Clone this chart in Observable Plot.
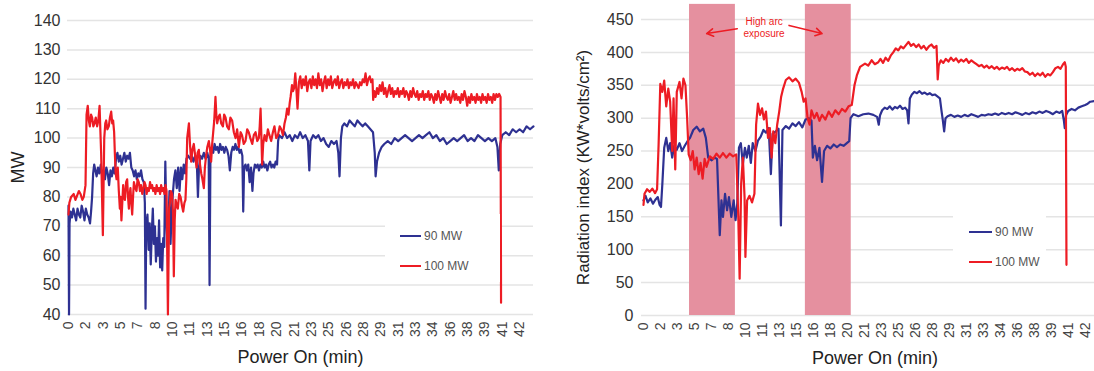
<!DOCTYPE html>
<html>
<head>
<meta charset="utf-8">
<script src="https://cdn.jsdelivr.net/npm/d3@7"></script>
<script src="https://cdn.jsdelivr.net/npm/@observablehq/plot@0.6"></script>
<style>
  html, body { margin: 0; padding: 0; background: #fff; }
  #wrap { position: relative; width: 1094px; height: 371px; overflow: hidden; font-family: 'Liberation Sans', Arial, Helvetica, sans-serif; }
  .panel { position: absolute; top: 0; }
  .legend { position: absolute; background: #fff; font-size: 12px; color: #555; }
  .legend .item { position: absolute; white-space: nowrap; line-height: 14px; }
  .legend .sw { display: inline-block; vertical-align: middle; height: 2px; margin-right: 3px; position: relative; top: -1px; }
</style>
</head>
<body>
<div id="wrap"></div>
<script>
// ---------- data ----------
const xTickLabels = ["0","2","3","5","7","8","10","11","13","15","16","18","20","21","23","25","26","28","29","31","33","34","36","38","39","41","42"];
const mwTicks = [40,50,60,70,80,90,100,110,120,130,140];
const radTicks = [0,50,100,150,200,250,300,350,400,450];
const seriesNames = ["90 MW", "100 MW"];

// Left panel: MW, x in tick-index units
const mw90 = [[0,77],[0.03,40],[0.06,71],[0.12,75],[0.2,73],[0.28,76],[0.36,74],[0.44,72],[0.52,76],[0.6,74],[0.68,73],[0.76,77],[0.84,75],[0.92,72],[1.0,76],[1.08,74],[1.16,73],[1.24,71],[1.3,75],[1.36,80],[1.42,88],[1.48,91],[1.55,89],[1.62,87],[1.7,90],[1.78,88],[1.86,91],[1.94,87],[2.02,89],[2.1,86],[2.18,90],[2.26,88],[2.34,84],[2.42,89],[2.5,87],[2.58,90],[2.66,88],[2.74,93],[2.82,95],[2.9,92],[2.98,94],[3.06,91],[3.14,93],[3.22,95],[3.3,92],[3.38,94],[3.46,93],[3.54,95],[3.62,90],[3.7,89],[3.78,87],[3.86,89],[3.94,86],[4.02,88],[4.1,87],[4.18,89],[4.26,86],[4.34,85],[4.4,78],[4.44,42],[4.48,70],[4.55,74],[4.62,62],[4.68,71],[4.74,57],[4.8,68],[4.86,76],[4.92,64],[4.98,70],[5.04,58],[5.1,66],[5.16,60],[5.22,72],[5.28,56],[5.34,64],[5.4,55],[5.46,66],[5.52,63],[5.58,92],[5.64,73],[5.7,64],[5.76,71],[5.82,82],[5.88,64],[5.94,74],[6.0,80],[6.08,86],[6.16,89],[6.24,83],[6.32,90],[6.4,82],[6.48,90],[6.56,86],[6.64,91],[6.72,88],[6.8,93],[6.9,94],[7.0,93],[7.1,94],[7.2,92],[7.3,94],[7.4,91],[7.46,80],[7.52,90],[7.6,94],[7.7,93],[7.8,95],[7.9,93],[8.0,95],[8.08,93],[8.13,50],[8.18,94],[8.26,96],[8.34,95],[8.42,98],[8.5,96],[8.58,97],[8.66,95],[8.74,98],[8.82,96],[8.9,97],[8.98,95],[9.06,97],[9.14,96],[9.22,94],[9.3,89],[9.38,95],[9.46,97],[9.54,96],[9.62,98],[9.7,96],[9.78,97],[9.86,95],[9.94,96],[10.02,94],[10.07,75],[10.12,90],[10.2,91],[10.28,89],[10.36,91],[10.44,85],[10.52,90],[10.6,82],[10.66,88],[10.74,91],[10.82,90],[10.9,91],[10.98,89],[11.06,91],[11.14,90],[11.22,92],[11.3,90],[11.38,91],[11.46,89],[11.54,91],[11.62,92],[11.7,90],[11.78,91],[11.86,90],[11.94,92],[12.02,91],[12.08,99],[12.14,101],[12.3,100],[12.45,102],[12.6,100],[12.75,101],[12.9,99],[13.05,101],[13.2,100],[13.35,102],[13.5,100],[13.65,101],[13.8,99],[13.88,89],[13.95,99],[14.1,101],[14.25,100],[14.4,101],[14.55,99],[14.7,100],[14.85,98],[15.0,97],[15.15,99],[15.3,98],[15.45,99],[15.55,95],[15.62,87],[15.7,100],[15.78,104],[15.9,105],[16.05,104],[16.2,106],[16.35,105],[16.5,104],[16.65,106],[16.8,105],[16.95,104],[17.1,105],[17.25,104],[17.4,103],[17.55,102],[17.65,95],[17.7,87],[17.78,92],[17.9,95],[18.05,97],[18.2,98],[18.4,99],[18.6,98],[18.8,100],[19.0,99],[19.2,100],[19.4,101],[19.6,100],[19.8,99],[20.0,100],[20.2,101],[20.4,100],[20.6,101],[20.8,102],[21.0,100],[21.2,101],[21.4,99],[21.6,100],[21.8,98],[22.0,99],[22.2,100],[22.4,99],[22.6,100],[22.8,101],[23.0,99],[23.2,100],[23.4,99],[23.6,101],[23.8,100],[24.0,99],[24.2,100],[24.4,99],[24.6,100],[24.72,97],[24.8,89],[24.88,98],[25.0,101],[25.2,102],[25.4,101],[25.6,103],[25.8,102],[26.0,103],[26.2,102],[26.4,104],[26.6,103],[26.8,104]];

const mw100 = [[0,74],[0.05,78],[0.15,80],[0.3,81],[0.4,79],[0.5,80.5],[0.6,82],[0.69,81],[0.8,79],[0.88,80],[0.98,84],[1.04,108],[1.11,111],[1.17,106],[1.23,104],[1.3,108],[1.36,107],[1.43,104],[1.5,105],[1.57,107],[1.65,104],[1.72,106],[1.79,111],[1.84,102],[1.88,95],[1.98,67],[2.06,100],[2.12,105],[2.17,106],[2.24,103],[2.32,104],[2.39,107],[2.46,109],[2.52,105],[2.57,106],[2.63,102],[2.67,95],[2.72,88],[2.77,86],[2.84,90],[2.9,82],[2.96,76],[3.0,80],[3.05,72],[3.1,78],[3.15,84],[3.2,80],[3.25,79],[3.32,85],[3.38,86],[3.43,80],[3.48,76],[3.53,81],[3.57,83],[3.62,78],[3.67,74],[3.72,80],[3.77,85],[3.85,83],[3.92,82],[3.98,86],[4.05,85],[4.12,82],[4.18,84],[4.25,81],[4.32,83],[4.38,85],[4.44,84],[4.5,81],[4.56,83],[4.63,82],[4.7,85],[4.76,83],[4.82,84],[4.88,82],[4.95,83],[5.01,81],[5.08,84],[5.14,82],[5.21,83],[5.28,81],[5.34,84],[5.4,82],[5.47,83],[5.53,81],[5.59,84],[5.65,82],[5.73,40],[5.8,76],[5.84,78],[5.9,82],[5.97,81],[6.02,75],[6.07,53],[6.12,72],[6.17,79],[6.24,77],[6.3,76],[6.38,81],[6.46,80],[6.54,77],[6.61,75],[6.68,78],[6.74,79],[6.79,86],[6.84,100],[6.94,105],[7.0,98],[7.07,92],[7.14,96],[7.22,98],[7.3,94],[7.38,90],[7.44,95],[7.51,96],[7.58,91],[7.65,88],[7.72,86],[7.8,83],[7.86,90],[7.93,94],[8.0,97],[8.09,99],[8.16,96],[8.22,92],[8.28,98],[8.34,102],[8.4,106],[8.47,114],[8.52,108],[8.57,105],[8.64,107],[8.72,108],[8.8,105],[8.9,104],[8.97,108],[9.05,107],[9.14,104],[9.24,103],[9.33,107],[9.43,106],[9.53,102],[9.63,100],[9.72,103],[9.82,97],[9.92,102],[10.0,101],[10.1,98],[10.2,99],[10.3,103],[10.39,102],[10.48,100],[10.59,98],[10.68,101],[10.78,102],[10.88,99],[10.97,100],[11.02,104],[11.07,110],[11.12,100],[11.16,91],[11.22,98],[11.3,101],[11.4,99],[11.49,103],[11.58,101],[11.68,99],[11.78,102],[11.87,104],[11.97,100],[12.07,101],[12.17,104],[12.26,103],[12.36,101],[12.45,105],[12.53,107],[12.6,110],[12.68,108],[12.75,112],[12.8,114],[12.88,118],[12.94,116],[13.0,117],[13.07,122],[13.14,116],[13.2,110],[13.28,119],[13.36,121],[13.44,117],[13.52,120],[13.6,118],[13.68,121],[13.76,116],[13.84,119],[13.92,120],[14.0,117],[14.08,121],[14.16,118],[14.24,120],[14.32,117],[14.4,122],[14.48,118],[14.56,120],[14.64,116],[14.72,119],[14.8,121],[14.88,117],[14.96,120],[15.04,118],[15.12,121],[15.2,117],[15.28,119],[15.36,120],[15.44,118],[15.52,121],[15.6,117],[15.68,119],[15.76,120],[15.84,117],[15.92,119],[16.0,118],[16.08,120],[16.16,117],[16.24,119],[16.32,118],[16.4,120],[16.48,117],[16.56,119],[16.64,118],[16.72,117],[16.8,119],[16.88,118],[16.96,120],[17.04,119],[17.12,122],[17.2,118],[17.28,120],[17.36,121],[17.44,119],[17.52,120],[17.56,113],[17.62,116],[17.7,114],[17.78,117],[17.86,115],[17.94,118],[18.02,116],[18.1,119],[18.18,115],[18.26,117],[18.34,114],[18.42,116],[18.5,118],[18.58,115],[18.66,117],[18.74,114],[18.82,116],[18.9,115],[18.98,117],[19.06,114],[19.14,116],[19.22,115],[19.3,117],[19.38,114],[19.46,116],[19.54,115],[19.62,113],[19.7,116],[19.78,114],[19.86,117],[19.94,115],[20.02,114],[20.1,116],[20.18,113],[20.26,115],[20.34,114],[20.42,116],[20.5,113],[20.58,115],[20.66,114],[20.74,116],[20.82,113],[20.9,115],[20.98,114],[21.06,112],[21.14,115],[21.22,113],[21.3,116],[21.38,114],[21.46,112],[21.54,115],[21.62,113],[21.7,116],[21.78,114],[21.86,113],[21.94,115],[22.02,112],[22.1,114],[22.18,116],[22.26,113],[22.34,115],[22.42,113],[22.5,114],[22.58,112],[22.66,115],[22.74,113],[22.82,116],[22.9,114],[22.98,111],[23.06,114],[23.14,112],[23.22,115],[23.3,113],[23.38,114],[23.46,112],[23.54,115],[23.62,113],[23.7,114],[23.78,112],[23.86,115],[23.94,113],[24.02,114],[24.1,112],[24.18,115],[24.26,113],[24.34,114],[24.42,112],[24.5,115],[24.58,113],[24.66,115],[24.74,114],[24.82,115],[24.9,114],[24.93,44]];

// Right panel: radiation index
const rad90 = [[0,175],[0.12,182],[0.25,172],[0.41,178],[0.56,170],[0.7,176],[0.84,180],[0.95,168],[1.03,165],[1.11,200],[1.22,255],[1.34,270],[1.46,250],[1.57,262],[1.69,240],[1.81,258],[1.96,252],[2.12,262],[2.27,250],[2.43,258],[2.59,265],[2.74,270],[2.93,282],[3.13,287],[3.32,280],[3.52,284],[3.67,270],[3.81,240],[4.0,236],[4.2,240],[4.33,238],[4.41,180],[4.49,122],[4.59,175],[4.68,150],[4.8,185],[4.92,160],[5.03,180],[5.17,150],[5.31,175],[5.42,145],[5.52,170],[5.62,255],[5.73,262],[5.85,230],[5.97,255],[6.08,240],[6.2,258],[6.32,232],[6.43,262],[6.59,250],[6.74,266],[6.9,272],[7.06,282],[7.21,278],[7.37,285],[7.5,215],[7.6,276],[7.79,280],[7.95,284],[8.09,137],[8.18,282],[8.38,288],[8.57,284],[8.77,292],[8.96,288],[9.15,294],[9.35,286],[9.54,298],[9.74,300],[9.89,296],[9.97,240],[10.09,258],[10.22,236],[10.36,255],[10.51,203],[10.63,250],[10.81,258],[11.0,254],[11.2,260],[11.39,256],[11.58,260],[11.78,258],[11.97,262],[12.11,265],[12.19,300],[12.36,306],[12.65,303],[12.94,306],[13.24,307],[13.53,305],[13.75,302],[13.85,290],[13.92,304],[14.05,312],[14.2,316],[14.35,314],[14.5,318],[14.65,313],[14.8,317],[14.95,315],[15.1,319],[15.25,314],[15.4,316],[15.52,312],[15.6,292],[15.68,330],[15.8,336],[15.95,340],[16.1,338],[16.25,341],[16.4,337],[16.55,339],[16.7,336],[16.85,338],[17.0,335],[17.15,336],[17.3,333],[17.45,330],[17.55,310],[17.62,297],[17.7,280],[17.78,300],[17.9,303],[18.1,305],[18.3,302],[18.5,304],[18.7,302],[18.9,305],[19.1,303],[19.3,306],[19.5,304],[19.7,302],[19.9,305],[20.1,304],[20.3,306],[20.5,305],[20.7,307],[20.9,305],[21.1,308],[21.3,306],[21.5,308],[21.7,306],[21.9,309],[22.1,307],[22.3,305],[22.5,308],[22.7,306],[22.9,309],[23.1,307],[23.3,310],[23.5,308],[23.7,311],[23.9,309],[24.1,306],[24.3,310],[24.5,308],[24.65,311],[24.75,296],[24.8,285],[24.88,305],[25.0,311],[25.2,314],[25.4,312],[25.6,316],[25.8,318],[26.0,320],[26.15,322],[26.3,325],[26.55,326]];

const rad100 = [[0,168],[0.06,185],[0.21,192],[0.37,188],[0.52,193],[0.68,186],[0.8,192],[0.89,260],[0.99,352],[1.11,340],[1.22,357],[1.34,318],[1.46,345],[1.57,325],[1.69,250],[1.77,330],[1.87,222],[1.96,340],[2.12,355],[2.24,330],[2.35,360],[2.47,350],[2.57,300],[2.66,245],[2.78,236],[2.9,250],[3.01,222],[3.13,240],[3.25,215],[3.36,232],[3.48,208],[3.6,238],[3.71,226],[3.91,242],[4.1,238],[4.3,246],[4.49,240],[4.68,247],[4.88,240],[5.07,246],[5.27,242],[5.46,245],[5.58,150],[5.66,56],[5.75,200],[5.85,240],[5.95,180],[6.0,89],[6.1,175],[6.24,182],[6.39,172],[6.53,185],[6.63,290],[6.74,322],[6.86,305],[6.98,315],[7.09,298],[7.21,310],[7.33,270],[7.44,285],[7.54,240],[7.64,280],[7.76,262],[7.87,290],[7.99,310],[8.1,332],[8.22,345],[8.38,358],[8.57,362],[8.77,356],[8.96,360],[9.15,354],[9.31,340],[9.43,325],[9.54,330],[9.66,300],[9.78,290],[9.89,312],[10.05,300],[10.2,308],[10.36,296],[10.51,305],[10.71,298],[10.9,310],[11.1,302],[11.29,312],[11.49,306],[11.68,314],[11.88,310],[12.07,318],[12.26,320],[12.42,350],[12.56,365],[12.75,378],[13.04,383],[13.23,380],[13.43,388],[13.62,382],[13.82,385],[13.95,390],[14.1,384],[14.25,392],[14.4,387],[14.55,395],[14.7,400],[14.85,406],[15.0,403],[15.15,409],[15.3,406],[15.45,411],[15.6,416],[15.75,410],[15.9,413],[16.05,408],[16.2,412],[16.35,406],[16.5,410],[16.65,404],[16.8,409],[16.95,412],[17.1,407],[17.25,410],[17.32,359],[17.38,380],[17.5,388],[17.65,384],[17.8,390],[17.95,386],[18.1,392],[18.25,387],[18.4,391],[18.55,385],[18.7,389],[18.85,386],[19.0,390],[19.15,384],[19.3,388],[19.45,385],[19.6,382],[19.75,379],[19.9,381],[20.05,377],[20.2,380],[20.35,376],[20.5,379],[20.65,375],[20.8,378],[20.95,374],[21.1,377],[21.25,375],[21.4,378],[21.55,373],[21.7,376],[21.85,372],[22.0,375],[22.15,373],[22.3,376],[22.45,371],[22.6,370],[22.75,366],[22.9,369],[23.05,364],[23.2,368],[23.35,365],[23.5,369],[23.65,363],[23.8,367],[23.95,365],[24.1,370],[24.25,376],[24.4,378],[24.55,375],[24.7,382],[24.8,385],[24.86,378],[24.9,77]];

// shaded "high arc exposure" intervals (tick-index units) and their vertical extent
const shadeStart = [2.71, 9.53];
const shadeEnd = [5.41, 12.23];
const shadeTop = 473;

// annotation
const noteText = ["High arc\nexposure"];
const noteAt = [[7.1, 438]];
const noteArrows = [[5.52, 436, 3.72, 428.6], [8.57, 441, 10.51, 428.6]];

// ---------- styles ----------
const FONT = "'Liberation Sans', Arial, Helvetica, sans-serif";
const BLUE = "#2e3192";
const RED = "#ed1c24";
const PINK = "#e5909f";
const GRID = "#e4e4e4";
const TXT = "#333";
const LW = 2.2;

const wrap = document.getElementById("wrap");
const ticksIdx = d3.range(xTickLabels.length);

const left = Plot.plot({
  width: 545, height: 371,
  marginLeft: 67, marginRight: 12, marginTop: 20, marginBottom: 57,
  x: {domain: [-0.058, 26.8]},
  y: {domain: [40, 140]},
  style: {fontFamily: FONT, background: "transparent", color: TXT, overflow: "visible"},
  marks: [
    Plot.gridY(mwTicks, {stroke: GRID, strokeOpacity: 1, strokeWidth: 1.5}),
    Plot.axisY(mwTicks, {tickSize: 0, tickPadding: 7, fontSize: 16, label: null, fill: TXT}),
    Plot.axisX(ticksIdx, {tickFormat: i => xTickLabels[i], tickRotate: -90, tickSize: 0, tickPadding: 7, fontSize: 14, label: null, fill: "#444"}),
    Plot.line(mw90, {x: d => d[0], y: d => d[1], stroke: BLUE, strokeWidth: LW}),
    Plot.line(mw100, {x: d => d[0], y: d => d[1], stroke: RED, strokeWidth: LW}),
    Plot.text(["MW"], {frameAnchor: "left", textAnchor: "middle", dx: -49, rotate: -90, fontSize: 18, fill: "#222"}),
    Plot.text(["Power On (min)"], {frameAnchor: "bottom", dy: 48, fontSize: 18, fill: "#222"})
  ]
});
left.classList.add("panel");
left.style.left = "0px";
wrap.appendChild(left);

const shades = shadeStart.map((s, i) => ({x1: s, x2: shadeEnd[i], y1: 0, y2: shadeTop}));

const right = Plot.plot({
  width: 549, height: 371,
  marginLeft: 96, marginRight: 0, marginTop: 19, marginBottom: 56,
  x: {domain: [-0.117, 26.55]},
  y: {domain: [0, 450]},
  style: {fontFamily: FONT, background: "transparent", color: TXT, overflow: "visible"},
  marks: [
    Plot.gridY(radTicks, {stroke: GRID, strokeOpacity: 1, strokeWidth: 1.5}),
    Plot.rect(shades, {x1: "x1", x2: "x2", y1: "y1", y2: "y2", fill: PINK}),
    Plot.axisY(radTicks, {tickSize: 0, tickPadding: 8, fontSize: 16, label: null, fill: TXT}),
    Plot.axisX(ticksIdx, {tickFormat: i => xTickLabels[i], tickRotate: -90, tickSize: 0, tickPadding: 7, fontSize: 14, label: null, fill: "#444"}),
    Plot.line(rad90, {x: d => d[0], y: d => d[1], stroke: BLUE, strokeWidth: LW}),
    Plot.line(rad100, {x: d => d[0], y: d => d[1], stroke: RED, strokeWidth: LW}),
    Plot.text(noteText, {x: () => noteAt[0][0], y: () => noteAt[0][1], text: d => d, fill: RED, fontSize: 10, lineHeight: 1.15}),
    Plot.arrow(noteArrows, {x1: d => d[0], y1: d => d[1], x2: d => d[2], y2: d => d[3], stroke: RED, strokeWidth: 1.6, headLength: 7}),
    Plot.text(["Radiation index (KW*volts/cm²)"], {frameAnchor: "left", textAnchor: "middle", dx: -58, rotate: -90, fontSize: 17, fill: "#222"}),
    Plot.text(["Power On (min)"], {frameAnchor: "bottom", dx: 7, dy: 48, fontSize: 18, fill: "#222"})
  ]
});
right.classList.add("panel");
right.style.left = "545px";
wrap.appendChild(right);

// legends
function legend(box, items) {
  const div = document.createElement("div");
  div.className = "legend";
  Object.assign(div.style, {left: box[0] + "px", top: box[1] + "px", width: box[2] + "px", height: box[3] + "px"});
  items.forEach(it => {
    const row = document.createElement("div");
    row.className = "item";
    row.style.left = it.x + "px";
    row.style.top = (it.y - 7) + "px";
    const sw = document.createElement("span");
    sw.className = "sw";
    sw.style.width = it.w + "px";
    sw.style.background = it.color;
    row.appendChild(sw);
    row.appendChild(document.createTextNode(it.label));
    div.appendChild(row);
  });
  wrap.appendChild(div);
}
legend([385, 214, 115, 68], [
  {x: 15, y: 22, w: 21, color: BLUE, label: seriesNames[0]},
  {x: 15, y: 52, w: 21, color: RED, label: seriesNames[1]}
]);
legend([953, 210, 93, 66], [
  {x: 16, y: 22, w: 23, color: BLUE, label: seriesNames[0]},
  {x: 16, y: 52, w: 23, color: RED, label: seriesNames[1]}
]);
</script>
</body>
</html>
